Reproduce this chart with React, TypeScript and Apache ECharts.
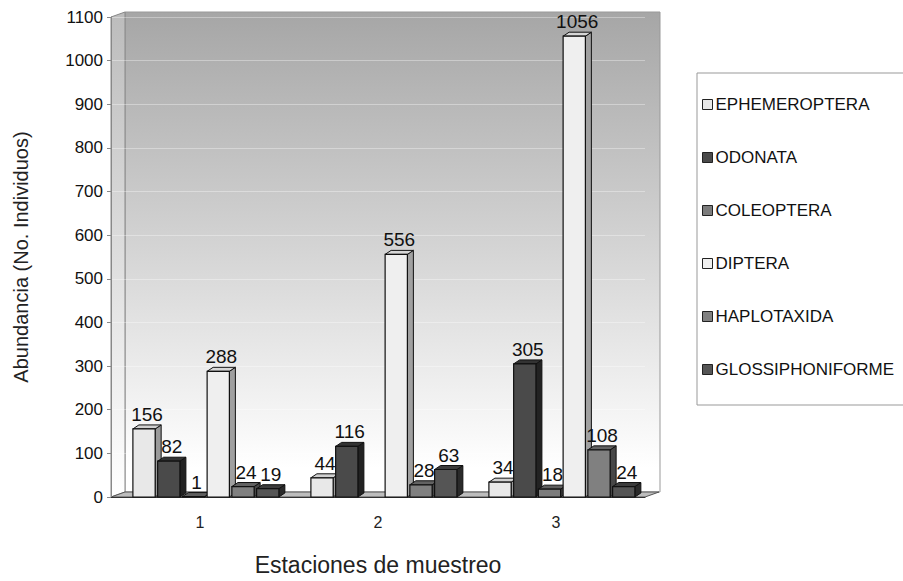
import React, { useEffect, useRef } from "react";
import * as echarts from "echarts";

const categories = ["1", "2", "3"];
const seriesNames = [
  "EPHEMEROPTERA",
  "ODONATA",
  "COLEOPTERA",
  "DIPTERA",
  "HAPLOTAXIDA",
  "GLOSSIPHONIFORME",
];
const ephemeroptera = [156, 44, 34];
const odonata = [82, 116, 305];
const coleoptera = [1, null, 18];
const diptera = [288, 556, 1056];
const haplotaxida = [24, 28, 108];
const glossiphoniforme = [19, 63, 24];
const seriesValues = [ephemeroptera, odonata, coleoptera, diptera, haplotaxida, glossiphoniforme];

const yMax = 1100;
const yInterval = 100;

const frontColors = ["#e8e8e8", "#4a4a4a", "#7c7c7c", "#efefef", "#808080", "#555555"];
const sideColors = ["#9a9a9a", "#222222", "#444444", "#a0a0a0", "#474747", "#2a2a2a"];
const topColors = ["#d0d0d0", "#333333", "#5e5e5e", "#d6d6d6", "#626262", "#3c3c3c"];

const FONT = '"Liberation Sans", Arial, sans-serif';

function makeRender(si: number) {
  return (params: any, api: any) => {
    const v = api.value(1);
    if (v === null || v === undefined || isNaN(v)) return null;
    const c = api.value(0);
    const base = api.coord([c, 0]);
    const top = api.coord([c, v]);
    const band = api.size([1, 0])[0];
    const slot = band * 0.139;
    const shift = band * 0.04;
    const x0 = base[0] + shift - 3 * slot + si * slot;
    const fw = slot * 0.9;
    const dx = 6;
    const dy = 4;
    const y0 = base[1];
    const y1 = top[1];
    return {
      type: "group",
      children: [
        {
          type: "polygon",
          shape: { points: [[x0 + fw, y1], [x0 + fw + dx, y1 - dy], [x0 + fw + dx, y0 - dy], [x0 + fw, y0]] },
          style: { fill: sideColors[si], stroke: "#111", lineWidth: 1 },
        },
        {
          type: "polygon",
          shape: { points: [[x0, y1], [x0 + dx, y1 - dy], [x0 + fw + dx, y1 - dy], [x0 + fw, y1]] },
          style: { fill: topColors[si], stroke: "#111", lineWidth: 1 },
        },
        {
          type: "rect",
          shape: { x: x0, y: y1, width: fw, height: y0 - y1 },
          style: { fill: frontColors[si], stroke: "#111", lineWidth: 1.2 },
        },
        {
          type: "text",
          style: {
            text: String(v),
            x: x0 + fw / 2 + 3,
            y: y1 - dy - 1,
            align: "center",
            verticalAlign: "bottom",
            font: `19px ${FONT}`,
            fill: "#111",
          },
        },
      ],
    };
  };
}

export default function App() {
  const ref = useRef<HTMLDivElement>(null);
  useEffect(() => {
    if (!ref.current) return;
    const chart = echarts.init(ref.current, undefined, { renderer: "svg" });
    const series = seriesNames.map((name, si) => ({
      name,
      type: "custom",
      renderItem: makeRender(si),
      itemStyle: { color: frontColors[si], borderColor: "#111", borderWidth: 1 },
      encode: { x: 0, y: 1 },
      data: seriesValues[si].map((v, i) => [i, v]),
      z: 3,
    }));
    chart.setOption({
      animation: false,
      backgroundColor: "#ffffff",
      textStyle: { fontFamily: FONT },
      grid: { left: 111, right: 258, top: 17, bottom: 84 },
      xAxis: {
        type: "category",
        data: categories,
        name: "Estaciones de muestreo",
        nameLocation: "middle",
        nameGap: 56,
        nameTextStyle: { fontSize: 23, color: "#222", fontFamily: FONT },
        axisLine: { show: true, lineStyle: { color: "#333", width: 1 } },
        axisTick: { show: false },
        axisLabel: { fontSize: 16, color: "#222", margin: 17, fontFamily: FONT },
      },
      yAxis: {
        type: "value",
        min: 0,
        max: yMax,
        interval: yInterval,
        name: "Abundancia (No. Individuos)",
        nameLocation: "middle",
        nameGap: 80,
        nameTextStyle: { fontSize: 20, color: "#222", fontFamily: FONT },
        axisLine: { show: true, lineStyle: { color: "#888" } },
        axisTick: { show: true, length: 4, lineStyle: { color: "#888" } },
        axisLabel: { fontSize: 17, color: "#111", margin: 8, fontFamily: FONT, formatter: (v: number) => String(v) },
        splitLine: { show: true, lineStyle: { color: "rgba(255,255,255,0.35)", width: 1 } },
      },
      legend: {
        data: seriesNames,
        orient: "vertical",
        left: 702,
        top: 96,
        itemWidth: 10,
        itemHeight: 10,
        itemGap: 36,
        icon: "rect",
        padding: 0,
        itemStyle: { borderColor: "#222", borderWidth: 1 },
        textStyle: { fontSize: 17, color: "#111", fontFamily: FONT, padding: [0, 0, 0, -2] },
        selectedMode: false,
        z: 5,
      },
      graphic: [
        {
          type: "rect",
          z: -1,
          shape: { x: 125, y: 12, width: 535, height: 480 },
          style: {
            fill: new echarts.graphic.LinearGradient(0, 0, 0, 1, [
              { offset: 0, color: "#a6a6a6" },
              { offset: 0.95, color: "#ffffff" },
              { offset: 1, color: "#ffffff" },
            ]),
            stroke: "#999",
            lineWidth: 1,
          },
        },
        {
          type: "polygon",
          z: -1,
          shape: { points: [[111, 17], [125, 12], [125, 492], [111, 497]] },
          style: {
            fill: new echarts.graphic.LinearGradient(0, 0, 0, 1, [
              { offset: 0, color: "#bcbcbc" },
              { offset: 1, color: "#ffffff" },
            ]),
            stroke: "#888",
            lineWidth: 1,
          },
        },
        {
          type: "polygon",
          z: -1,
          shape: { points: [[111, 497], [645, 497], [659, 492], [125, 492]] },
          style: { fill: "#bdbdbd", stroke: "#555", lineWidth: 1 },
        },
        {
          type: "rect",
          z: 0,
          shape: { x: 697, y: 73, width: 220, height: 332 },
          style: { fill: "#ffffff", stroke: "#999", lineWidth: 1 },
        },
      ],
      series,
    });
    return () => chart.dispose();
  }, []);
  return (
    <div
      ref={ref}
      style={{ position: "fixed", left: 0, top: 0, width: 903, height: 581 }}
    />
  );
}
